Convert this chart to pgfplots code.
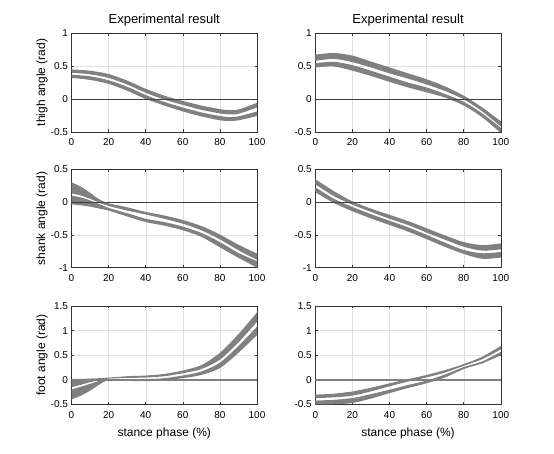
\documentclass[border=0pt]{standalone}
\usepackage{fontspec}
\setmainfont{Liberation Sans}
\usepackage{pgfplots}
\pgfplotsset{compat=1.18}
\usepackage{pgfplotstable}
\usepgfplotslibrary{fillbetween}

\definecolor{band}{RGB}{128,128,128}

\pgfplotstableread{
x at ab bt bb
0 0.45 0.40 0.37 0.32
10 0.43 0.375 0.345 0.29
20 0.38 0.32 0.285 0.23
30 0.28 0.22 0.185 0.125
40 0.155 0.095 0.06 0.0
50 0.05 -0.01 -0.045 -0.10
60 -0.03 -0.09 -0.13 -0.19
70 -0.10 -0.165 -0.205 -0.265
80 -0.155 -0.22 -0.26 -0.325
85 -0.17 -0.235 -0.275 -0.335
90 -0.16 -0.225 -0.265 -0.325
100 -0.06 -0.13 -0.19 -0.26
}\thighL

\pgfplotstableread{
x at ab bt bb
0 0.675 0.58 0.545 0.48
10 0.70 0.61 0.565 0.495
20 0.66 0.56 0.515 0.43
30 0.57 0.48 0.43 0.35
40 0.48 0.39 0.34 0.26
50 0.39 0.31 0.25 0.175
60 0.30 0.22 0.175 0.10
70 0.19 0.12 0.075 0.02
80 0.05 -0.005 -0.045 -0.10
90 -0.13 -0.19 -0.22 -0.28
100 -0.34 -0.42 -0.44 -0.52
}\thighR

\pgfplotstableread{
x at ab bt bb
0 0.30 0.13 0.10 -0.035
5 0.235 0.10 0.07 -0.05
10 0.14 0.05 0.025 -0.07
15 0.04 -0.01 -0.03 -0.10
20 -0.02 -0.06 -0.09 -0.13
30 -0.08 -0.13 -0.17 -0.22
40 -0.15 -0.19 -0.255 -0.305
50 -0.205 -0.255 -0.305 -0.36
60 -0.275 -0.33 -0.375 -0.43
70 -0.365 -0.43 -0.47 -0.53
80 -0.495 -0.57 -0.61 -0.69
90 -0.65 -0.735 -0.775 -0.85
100 -0.785 -0.88 -0.90 -1.0
}\shankL

\pgfplotstableread{
x at ab bt bb
0 0.35 0.27 0.225 0.15
10 0.165 0.09 0.05 -0.015
20 0.01 -0.04 -0.075 -0.14
30 -0.10 -0.15 -0.185 -0.25
40 -0.195 -0.255 -0.285 -0.35
50 -0.29 -0.35 -0.385 -0.45
60 -0.40 -0.465 -0.50 -0.565
70 -0.51 -0.575 -0.62 -0.685
80 -0.61 -0.68 -0.73 -0.79
90 -0.655 -0.74 -0.78 -0.865
100 -0.63 -0.72 -0.76 -0.845
}\shankR

\pgfplotstableread{
x at ab bt bb
0 0.02 -0.15 -0.195 -0.40
5 0.02 -0.10 -0.14 -0.32
10 0.027 -0.047 -0.08 -0.22
15 0.034 -0.007 -0.02 -0.095
20 0.047 0.027 0.02 -0.007
30 0.074 0.04 0.014 -0.02
40 0.088 0.047 0.014 -0.027
50 0.12 0.074 0.034 -0.007
60 0.19 0.135 0.088 0.034
70 0.30 0.22 0.17 0.10
80 0.55 0.41 0.35 0.24
90 0.93 0.76 0.69 0.55
100 1.37 1.18 1.08 0.91
}\footL

\pgfplotstableread{
x at ab bt bb
0 -0.30 -0.37 -0.42 -0.50
10 -0.28 -0.355 -0.405 -0.495
20 -0.235 -0.32 -0.37 -0.47
30 -0.16 -0.235 -0.29 -0.38
40 -0.07 -0.13 -0.20 -0.27
50 0.015 -0.035 -0.105 -0.165
60 0.10 0.05 -0.015 -0.07
70 0.20 0.15 0.11 0.05
80 0.32 0.285 0.26 0.22
90 0.47 0.42 0.375 0.335
100 0.69 0.62 0.57 0.50
}\footR

\pgfplotsset{
 base/.style={
  scale only axis, width=185.5pt, height=98.5pt, anchor=south west,
  xmin=0, xmax=100, xtick={0,20,...,100},
  grid=major, major grid style={black!12, line width=0.4pt},
  axis line style={black!80, line width=0.5pt},
  tick style={black!80, line width=0.5pt},
  tick align=inside, major tick length=2.5pt,
  /pgf/number format/assume math mode=true,
  ticklabel style={font=\fontsize{10}{12}\selectfont},
  label style={font=\fontsize{12}{14}\selectfont},
  title style={font=\fontsize{13}{15}\selectfont, at={(0.5,1)}, anchor=south, yshift=-2pt},
  xticklabel style={yshift=-3pt},
  ylabel style={at={(-0.159,0.5)}, anchor=center},
  xlabel style={at={(0.5,0)}, anchor=north, yshift=-19.5pt},
 },
}

\newcommand{\bands}[1]{%
 \addplot[draw=none, smooth, name path=pA, forget plot] table[x=x,y=at]{#1};
 \addplot[draw=none, smooth, name path=pB, forget plot] table[x=x,y=ab]{#1};
 \addplot[draw=none, smooth, name path=pC, forget plot] table[x=x,y=bt]{#1};
 \addplot[draw=none, smooth, name path=pD, forget plot] table[x=x,y=bb]{#1};
 \addplot[fill=band, draw=none, forget plot] fill between[of=pA and pB];
 \addplot[fill=band, draw=none, forget plot] fill between[of=pC and pD];
}

\begin{document}
\begin{tikzpicture}
% thigh left
\begin{axis}[base, at={(71.5pt,322.2pt)}, ymin=-0.5, ymax=1, ytick={-0.5,0,0.5,1},
  title={Experimental result}, ylabel={thigh angle (rad)}]
 \addplot[black!75, line width=0.6pt, forget plot] coordinates {(0,0) (100,0)};
 \bands{\thighL}
\end{axis}
% thigh right
\begin{axis}[base, at={(315.3pt,322.2pt)}, ymin=-0.5, ymax=1, ytick={-0.5,0,0.5,1},
  title={Experimental result}]
 \addplot[black!75, line width=0.6pt, forget plot] coordinates {(0,0) (100,0)};
 \bands{\thighR}
\end{axis}
% shank left
\begin{axis}[base, at={(71.5pt,186.3pt)}, ymin=-1, ymax=0.5, ytick={-1,-0.5,0,0.5},
  ylabel={shank angle (rad)}]
 \addplot[black!75, line width=0.6pt, forget plot] coordinates {(0,0) (100,0)};
 \bands{\shankL}
\end{axis}
% shank right
\begin{axis}[base, at={(315.3pt,186.3pt)}, ymin=-1, ymax=0.5, ytick={-1,-0.5,0,0.5}]
 \addplot[black!75, line width=0.6pt, forget plot] coordinates {(0,0) (100,0)};
 \bands{\shankR}
\end{axis}
% foot left
\begin{axis}[base, at={(71.5pt,49.5pt)}, ymin=-0.5, ymax=1.5, ytick={-0.5,0,0.5,1,1.5},
  ylabel={foot angle (rad)}, xlabel={stance phase (\%)}]
 \addplot[band, line width=1.3pt, forget plot] coordinates {(0,0) (100,0)};
 \bands{\footL}
\end{axis}
% foot right
\begin{axis}[base, at={(315.3pt,49.5pt)}, ymin=-0.5, ymax=1.5, ytick={-0.5,0,0.5,1,1.5},
  xlabel={stance phase (\%)}]
 \addplot[band, line width=1.3pt, forget plot] coordinates {(0,0) (100,0)};
 \bands{\footR}
\end{axis}
\path (0pt,0pt) rectangle (554pt,454pt);
\end{tikzpicture}
\end{document}
